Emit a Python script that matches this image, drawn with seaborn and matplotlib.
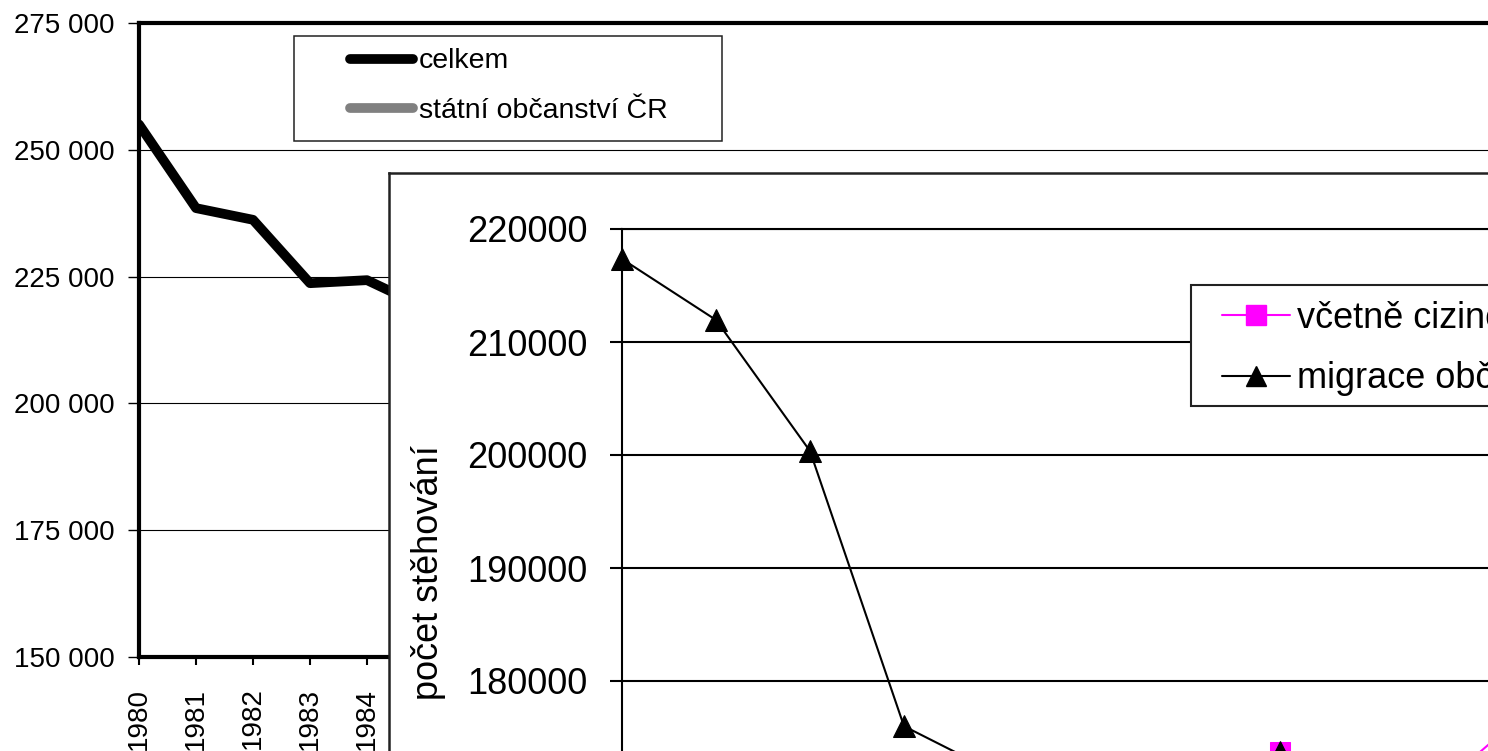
import matplotlib
matplotlib.use("Agg")
import matplotlib.pyplot as plt
import seaborn as sns
from matplotlib.lines import Line2D
from matplotlib.patches import Rectangle
from matplotlib.ticker import FuncFormatter

# background chart (total migration)
years = [1980, 1981, 1982, 1983, 1984, 1985]
celkem = [255000, 238500, 236200, 223700, 224300, 219000]
left_yticks = [150000, 175000, 200000, 225000, 250000, 275000]
left_xticks = list(range(1980, 2004))
left_labels = ["celkem", "státní občanství ČR"]

# inset chart
inset_idx = list(range(11))
migrace_obcanu = [217350, 211950, 200350, 176000, 171800, 169000, 168500,
                  173760, 170500, 169500, 171000]
vcetne_idx = [7, 8, 9, 10]
vcetne_cizincu = [173760, 172800, 172800, 180000]
inset_yticks = [160000, 170000, 180000, 190000, 200000, 210000, 220000]
inset_labels = ["včetně cizinců", "migrace občanů ČR"]

W, H = 1488, 751


def fx(px):
    return px / W


def fy(py):
    return 1 - py / H


sns.set_style("ticks")
plt.rcParams["font.family"] = ["Liberation Sans", "DejaVu Sans"]
plt.rcParams["text.color"] = "black"
plt.rcParams["xtick.color"] = "black"
plt.rcParams["ytick.color"] = "black"

fig = plt.figure(figsize=(W / 100, H / 100), dpi=100)
fig.patch.set_facecolor("white")

# ---- background chart ----
ax = fig.add_axes([fx(139), fy(657), (1507 - 139) / W, (657 - 23) / H])
sns.lineplot(x=years, y=celkem, ax=ax, color="black", linewidth=7,
             solid_capstyle="round", solid_joinstyle="round", legend=False)
ax.set_xlim(1980, 2004)
ax.set_ylim(150000, 275000)
ax.set_yticks(left_yticks)
ax.yaxis.set_major_formatter(FuncFormatter(lambda v, p: f"{int(v):,}".replace(",", " ")))
ax.set_xticks(left_xticks)
ax.set_xticklabels([str(y) for y in left_xticks], rotation=90, va="top", ha="center")
ax.tick_params(axis="x", bottom=True, length=6, width=1.5, pad=16, labelsize=20, direction="out")
ax.tick_params(axis="y", left=True, length=8, width=1, pad=9.5, labelsize=20, direction="out")
ax.yaxis.grid(True, color="black", linewidth=0.8)
ax.xaxis.grid(False)
ax.set_xlabel("")
ax.set_ylabel("")
for s in ax.spines.values():
    s.set_linewidth(3)
    s.set_color("black")

ax.add_patch(Rectangle((fx(294), fy(141)), (722 - 294) / W, (141 - 36) / H,
                       transform=fig.transFigure, facecolor="white", edgecolor="#222",
                       linewidth=1.1, zorder=4.9, clip_on=False))
left_handles = [Line2D([], [], color="black", lw=7, solid_capstyle="round"),
                Line2D([], [], color="#808080", lw=7, solid_capstyle="round")]
ax.legend(left_handles, left_labels, loc="upper left",
          bbox_to_anchor=(fx(350), fy(48.5)), bbox_transform=fig.transFigure,
          frameon=False, borderpad=0, borderaxespad=0, handlelength=2.21,
          handletextpad=0.21, labelspacing=0.83, fontsize=20.5)

# ---- inset frame ----
ax_fr = fig.add_axes([fx(389), fy(1100), (1800 - 389) / W, (1100 - 173) / H])
ax_fr.set_facecolor("white")
ax_fr.set_xticks([])
ax_fr.set_yticks([])
for s in ax_fr.spines.values():
    s.set_linewidth(1.8)
    s.set_color("#222")

# ---- inset chart ----
ax_in = fig.add_axes([fx(622), fy(907), 940 / W, (907 - 229) / H])
ax_in.set_facecolor("white")
sns.lineplot(x=vcetne_idx, y=vcetne_cizincu, ax=ax_in, color="#FF00FF", linewidth=1.5,
             marker="s", markersize=14.5, markeredgecolor="#FF00FF", clip_on=False)
sns.lineplot(x=inset_idx, y=migrace_obcanu, ax=ax_in, color="black", linewidth=1.5,
             marker="^", markersize=15.5, markeredgecolor="black", clip_on=False)
ax_in.set_xlim(0, 10)
ax_in.set_ylim(160000, 220000)
ax_in.set_yticks(inset_yticks)
ax_in.set_yticklabels([str(v) for v in inset_yticks])
ax_in.set_xticks([])
ax_in.tick_params(axis="y", left=True, length=8.6, width=1.5, pad=16.5, labelsize=26, direction="out")
ax_in.yaxis.grid(True, color="black", linewidth=1.5)
ax_in.set_xlabel("")
ax_in.set_ylabel("")
for name, s in ax_in.spines.items():
    s.set_linewidth(1.5)
    s.set_color("black")

fig.text(fx(428), fy(573), "počet stěhování", rotation=90, ha="center", va="center", fontsize=26)

ax_in.add_patch(Rectangle((fx(1191), fy(406)), (1800 - 1191) / W, (406 - 285) / H,
                          transform=fig.transFigure, facecolor="white", edgecolor="#222",
                          linewidth=1.5, zorder=4.9, clip_on=False))
inset_handles = [Line2D([], [], color="#FF00FF", lw=1.5, marker="s", markersize=14.5,
                        markeredgecolor="#FF00FF"),
                 Line2D([], [], color="black", lw=1.5, marker="^", markersize=14.5,
                        markeredgecolor="black")]
ax_in.legend(inset_handles, inset_labels, loc="upper left",
             bbox_to_anchor=(fx(1222), fy(301)), bbox_transform=fig.transFigure,
             frameon=False, borderpad=0, borderaxespad=0, handlelength=1.89,
             handletextpad=0.19, labelspacing=0.54, fontsize=26)

fig.savefig("out.png", dpi=100)
